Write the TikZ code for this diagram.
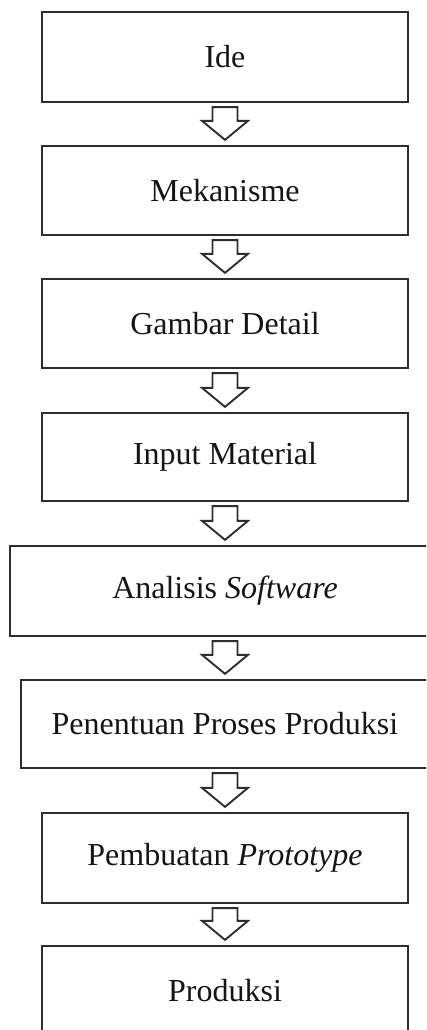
\documentclass[tikz,border=0pt]{standalone}
\usepackage{fontspec}
\setmainfont{Liberation Serif}
\usetikzlibrary{calc}
\definecolor{linegray}{HTML}{2E2E2E}
\definecolor{textgray}{HTML}{151515}
\tikzset{
  stepbox/.style={draw=linegray, line width=2.3pt, rectangle, minimum width=366pt, minimum height=89pt, inner sep=0pt, font=\fontsize{32}{37}\selectfont, text=textgray},
  harrow/.style={draw=linegray, line width=1.9pt, fill=white, line join=miter}
}
\newcommand{\flowarrow}[2]{%
  \draw[harrow] ($(#1.south)+(-12.5,4)$) -- ($(#1.south)+(12.5,4)$) -- ($(#2.north)+(12.5,-24)$) -- ($(#2.north)+(23,-24)$) -- ($(#2.north)+(0,-5)$) -- ($(#2.north)+(-23,-24)$) -- ($(#2.north)+(-12.5,-24)$) -- cycle;}
\begin{document}
\begin{tikzpicture}[x=1pt,y=-1pt]
\useasboundingbox (0,0) rectangle (426,1030);
\clip (0,0) rectangle (426,1030);
\fill[white] (0,0) rectangle (426,1030);
\node[stepbox, minimum height=90pt] (b1) at (225,57) {Ide};
\node[stepbox] (b2) at (225,190.5) {Mekanisme};
\node[stepbox] (b3) at (225,323.5) {Gambar Detail};
\node[stepbox, minimum height=88pt] (b4) at (225,457) {Input Material};
\node[stepbox, minimum width=430pt, minimum height=90pt] (b5) at (225,591) {Analisis \textit{Software}};
\node[stepbox, minimum width=408pt, minimum height=88pt] (b6) at (225,724) {Penentuan Proses Produksi};
\node[stepbox, minimum height=90pt] (b7) at (225,858) {Pembuatan \textit{Prototype}};
\node[stepbox, minimum height=90pt] (b8) at (225,991) {Produksi};
\flowarrow{b1}{b2}
\flowarrow{b2}{b3}
\flowarrow{b3}{b4}
\flowarrow{b4}{b5}
\flowarrow{b5}{b6}
\flowarrow{b6}{b7}
\flowarrow{b7}{b8}
\end{tikzpicture}
\end{document}
